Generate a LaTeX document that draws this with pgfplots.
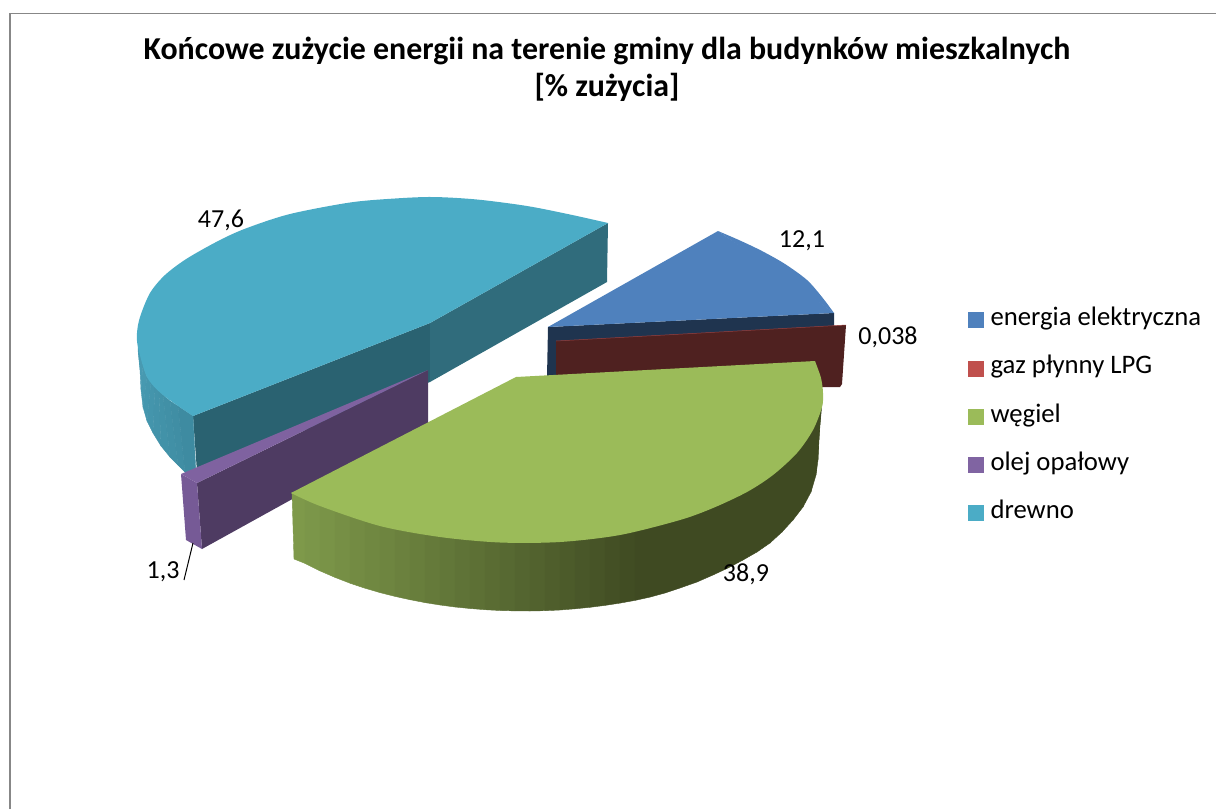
\documentclass[border=0pt]{standalone}
\usepackage{fontspec}
\setmainfont{Carlito}
\usepackage{pgfplots}
\pgfplotsset{compat=1.18}

\definecolor{cBlue}{HTML}{4F81BD}
\definecolor{cRed}{HTML}{C0504D}
\definecolor{cGreen}{HTML}{9BBB59}
\definecolor{cPurple}{HTML}{8064A2}
\definecolor{cTeal}{HTML}{4BACC6}
\definecolor{dTealL}{RGB}{42,98,113}
\definecolor{dTealR}{RGB}{48,108,124}
\definecolor{dBlue}{RGB}{31,52,79}
\definecolor{dRed}{RGB}{79,33,32}
\definecolor{dPurple}{RGB}{78,59,98}
\definecolor{mPurple}{RGB}{118,90,150}
\definecolor{tPurple}{RGB}{127,98,160}

\pgfplotsset{
  flat/.style={fill=#1, draw=none, forget plot},
  sq/.style={legend image code/.code={\fill[#1] (0pt,-7.5pt) rectangle (15pt,7.5pt); \path (22pt,0pt);}},
}
\newcommand{\lab}{\fontsize{26}{30}\selectfont}

\begin{document}
\begin{tikzpicture}
\begin{axis}[
  scale only axis, width=1216pt, height=809pt,
  xmin=0, xmax=1216, ymin=0, ymax=809, y dir=reverse,
  axis line style={draw=none}, xtick=\empty, ytick=\empty,
  point meta min=0, point meta max=1,
  colormap={greenside}{rgb255=(127,155,75) rgb255=(63,74,34)},
  colormap={tealside}{rgb255=(74,158,182) rgb255=(61,138,160)},
  legend style={at={(0.796,0.619)}, anchor=north west, draw=none, fill=none,
    font=\fontsize{26.7}{30}\selectfont, row sep=25.3pt, inner sep=0pt,
    nodes={text height=17pt, text depth=6pt, inner sep=0pt}},
  legend cell align=left,
]
% chart frame
\addplot[draw=black!47, line width=1.3pt, forget plot] coordinates {(10,809) (10,13.5) (1216,13.5)};

% drewno
\addplot[flat=dTealL] coordinates {(430,323) (193,416) (197,472) (430,382)} --cycle;
\addplot[flat=dTealR] coordinates {(430,323) (608,223) (607,282) (430,382)} --cycle;
\addplot[surf, shader=flat, point meta=explicit, colormap name=tealside, mesh/rows=2, forget plot] table[meta=c] {
x y c
138 340 0
139 345 0.08
140 352 0.15
143 365 0.22
147 377 0.3
151 382 0.4
155 387 0.5
159 391 0.58
163 395 0.65
170 401 0.75
178 406 0.85
193 416 1
138 350 0
139 360 0.08
140 370 0.15
141 390 0.22
143 407 0.3
147 421 0.4
153 433 0.5
161 446 0.58
170 457 0.65
178 465 0.75
185 472 0.85
196 474 1
};
\addplot[flat=cTeal] coordinates {(430,323) (608,223) (300,230) (193,416)} --cycle;
\addplot[flat=cTeal, smooth] coordinates {(608,223) (570,214.5) (527,206) (477,199.5) (433,197) (395,198.5) (350,202.5)
  (290,214) (247,228) (220,240) (187,258.5) (165,275) (150,293) (140,317) (137,333) (138,347)
  (147,377) (163,395) (193,416)};

% energia elektryczna
\addplot[flat=dBlue] coordinates {(548,327) (834,313) (834,345) (547,377)} --cycle;
\addplot[flat=cBlue] coordinates {(548,327) (718,231) (790,280) (834,313)} --cycle;
\addplot[flat=cBlue, smooth] coordinates {(718,231) (740,240.5) (762,251) (785,264) (807,280) (822,297) (834,313)};

% gaz plynny LPG
\addplot[flat=dRed] coordinates {(556,341) (846,325) (842,384) (840,387) (812,387) (556,378)} --cycle;
\addplot[draw=cRed!80!black, line width=0.5pt, forget plot] coordinates {(556,341) (846,325)};

% olej opalowy
\addplot[flat=dPurple] coordinates {(197,483) (428,370) (428,424) (202,549)} --cycle;
\addplot[flat=mPurple] coordinates {(181,474) (197,483) (202,549) (186,540)} --cycle;
\addplot[flat=tPurple] coordinates {(181,474) (428,370) (197,483)} --cycle;

% wegiel
\addplot[surf, shader=flat, point meta=explicit, colormap name=greenside, mesh/rows=2, forget plot] table[meta=c] {
x y c
292 493 0
305 495 0.04
320 501 0.08
335 507 0.12
350 513 0.17
365 518 0.21
380 523 0.25
395 526 0.29
410 530 0.34
425 532 0.38
440 535 0.42
455 537 0.47
470 538 0.51
485 539 0.55
500 540 0.59
515 541 0.64
530 541 0.68
545 540 0.72
560 540 0.77
575 538 0.81
590 537 0.85
605 535 0.89
620 533 0.94
635 530 0.98
650 527 1
665 523 1
680 518 1
697 512 1
713 506 1
728 499 1
743 491 1
757 484 1
770 474 1
782 465 1
793 453 1
803 443 1
811 430 1
816 420 1
818 412 1
819 408 1
820 400 1
822 393 1
294 559 0
305 563.4 0.04
320 570.9 0.08
335 577.4 0.12
350 583.2 0.17
365 588.2 0.21
380 592.6 0.25
395 596.4 0.29
410 599.7 0.34
425 602.6 0.38
440 605 0.42
455 607 0.47
470 608.5 0.51
485 609.7 0.55
500 610.5 0.59
515 610.9 0.64
530 611 0.68
545 610.7 0.72
560 610 0.77
575 608.8 0.81
590 607.3 0.85
605 605.4 0.89
620 603.1 0.94
635 600.4 0.98
650 597.1 1
665 593 1
680 588 1
697 582 1
713 575 1
728 568 1
743 560 1
757 552 1
770 543 1
782 532 1
793 520 1
803 507 1
811 492 1
816 475 1
818 460 1
819 440 1
820 425 1
822 403 1
};
\addplot[flat=cGreen] coordinates {(516,377) (815,361) (700,500) (500,530) (291,493)} --cycle;
\addplot[flat=cGreen, smooth] coordinates {(815,361) (821,378) (823,393) (822,407) (813,430) (797,453) (773,475)
  (747,492) (713,508) (680,520) (620,535) (560,542) (500,542.5) (440,537) (380,526) (320,506) (291,493)};

% leader line for 1,3
\addplot[black, line width=1pt, forget plot] coordinates {(193,543) (184,580)};

\node[font=\lab] at (axis cs:221,220) {47,6};
\node[font=\lab] at (axis cs:802,241) {12,1};
\node[font=\lab] at (axis cs:888,337) {0,038};
\node[font=\lab] at (axis cs:746,574) {38,9};
\node[font=\lab] at (axis cs:163,572) {1,3};

\node[font=\fontsize{31.9}{37}\selectfont\bfseries, align=center] at (axis cs:607,69)
  {Końcowe zużycie energii na terenie gminy dla budynków mieszkalnych\\{}[\% zużycia]};

\addlegendimage{sq=cBlue}
\addlegendentry{energia elektryczna}
\addlegendimage{sq=cRed}
\addlegendentry{gaz płynny LPG}
\addlegendimage{sq=cGreen}
\addlegendentry{węgiel}
\addlegendimage{sq=cPurple}
\addlegendentry{olej opałowy}
\addlegendimage{sq=cTeal}
\addlegendentry{drewno}
\end{axis}
\end{tikzpicture}
\end{document}
